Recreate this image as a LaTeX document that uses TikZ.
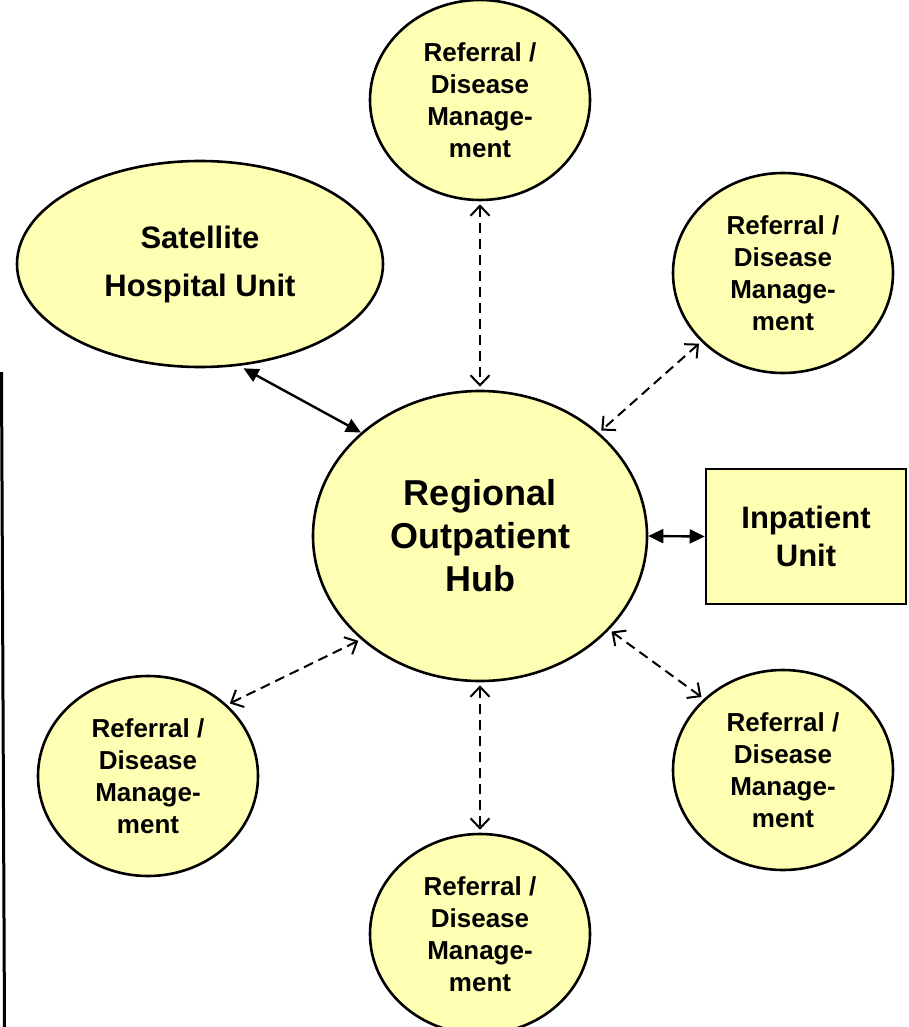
\documentclass[tikz,border=0pt]{standalone}
\usepackage{fontspec}
\setmainfont{Liberation Sans}
\usetikzlibrary{shapes.geometric,arrows.meta}
\definecolor{paleyellow}{RGB}{255,255,179}

\begin{document}
\begin{tikzpicture}[x=1pt,y=-1pt,
    blob/.style={ellipse,draw,line width=2.6pt,fill=paleyellow,inner sep=0pt,align=center},
    refblob/.style={blob,minimum width=220pt,minimum height=200pt,font=\fontsize{26}{32}\selectfont\bfseries},
    solidlink/.style={line width=2.4pt,{Triangle[length=15pt,width=14pt]}-{Triangle[length=15pt,width=14pt]}},
    dashlink/.style={line width=2pt,dash pattern=on 10pt off 6pt,{Straight Barb[length=10pt,width=19pt]}-{Straight Barb[length=10pt,width=19pt]},shorten <=3pt,shorten >=3pt}]
    \useasboundingbox (0,0) rectangle (909,1027);

    \draw[line width=3pt] (1.5,372) -- (4.5,1027); % stray edge line

    \node[blob,minimum width=334pt,minimum height=290pt,font=\fontsize{36}{43}\selectfont\bfseries] (hub) at (480,536) {Regional\\Outpatient\\Hub};
    \node[blob,minimum width=366pt,minimum height=206pt,font=\fontsize{31}{48}\selectfont\bfseries] (sat) at (200,264) {Satellite\\Hospital Unit};
    \node[draw,line width=2.6pt,fill=paleyellow,align=center,minimum width=200pt,minimum height=135pt,font=\fontsize{31}{38}\selectfont\bfseries] (inp) at (806,536.5) {Inpatient\\Unit};

    \node[refblob] (top) at (480,100) {Referral /\\Disease\\Manage-\\ment};
    \node[refblob] (ur) at (783,273) {Referral /\\Disease\\Manage-\\ment};
    \node[refblob] (ll) at (148,776) {Referral /\\Disease\\Manage-\\ment};
    \node[refblob] (lr) at (783,770) {Referral /\\Disease\\Manage-\\ment};
    \node[refblob] (bot) at (480,934) {Referral /\\Disease\\Manage-\\ment};

    \draw[solidlink,shorten <=5pt] (sat.-69) -- (hub.139);
    \draw[solidlink] (hub.east) -- (inp.west);
    \draw[dashlink] (top.south) -- (hub.north);
    \draw[dashlink] (ur.-140) -- (hub.41);
    \draw[dashlink] (hub.-139) -- (ll.42);
    \draw[dashlink] (hub.-36) -- (lr.138);
    \draw[dashlink] (hub.south) -- (bot.north);
\end{tikzpicture}
\end{document}
